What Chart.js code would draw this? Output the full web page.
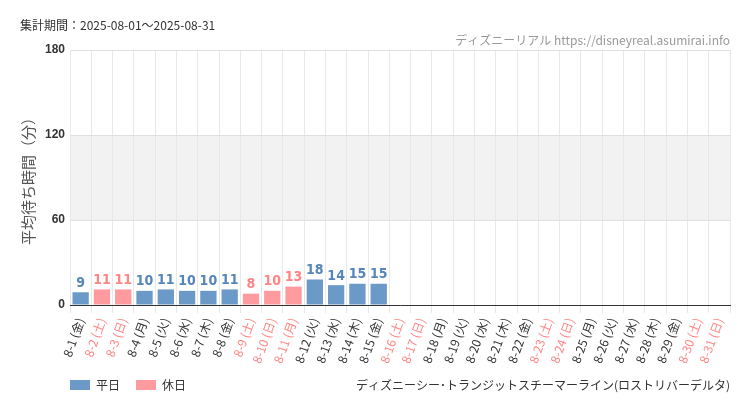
<!DOCTYPE html>
<html><head><meta charset="utf-8">
<script src="https://cdn.jsdelivr.net/npm/chart.js@4"></script>
<style>body{margin:0;background:#fff}#wrap{width:750px;height:410px;position:relative}</style>
</head><body><div id="wrap"><canvas id="c" width="750" height="410"></canvas></div>
<script>
// data
const days = ['8-1 (金)','8-2 (土)','8-3 (日)','8-4 (月)','8-5 (火)','8-6 (水)','8-7 (木)','8-8 (金)','8-9 (土)','8-10 (日)','8-11 (月)','8-12 (火)','8-13 (水)','8-14 (木)','8-15 (金)','8-16 (土)','8-17 (日)','8-18 (月)','8-19 (火)','8-20 (水)','8-21 (木)','8-22 (金)','8-23 (土)','8-24 (日)','8-25 (月)','8-26 (火)','8-27 (水)','8-28 (木)','8-29 (金)','8-30 (土)','8-31 (日)'];
const waits = [9,11,11,10,11,10,10,11,8,10,13,18,14,15,15];
const holidays = ['8-2','8-3','8-9','8-10','8-11','8-16','8-17','8-23','8-24','8-30','8-31'];
const yTicks = [0,60,120,180];

const WEEK = '#6b9ac8', HOL = '#ff9a9e', WEEK_T = '#5585bb', HOL_T = '#ff8585';
const isHol = i => holidays.includes(days[i].split(' ')[0]);

const deco = {
  id:'deco',
  beforeDraw(ch){
    const {ctx, chartArea:a, scales:{y}} = ch;
    ctx.fillStyle = '#f2f2f2';
    ctx.fillRect(a.left, y.getPixelForValue(120), a.right-a.left, y.getPixelForValue(60)-y.getPixelForValue(120));
  },
  afterDraw(ch){
    const {ctx, chartArea:a, scales:{x,y}} = ch;
    ctx.save();
    ctx.font = 'bold 14px "Liberation Sans Narrow","DejaVu Sans Condensed",sans-serif';
    ctx.textAlign = 'center'; ctx.textBaseline = 'bottom';
    waits.forEach((v,i)=>{
      ctx.fillStyle = isHol(i) ? HOL_T : WEEK_T;
      ctx.fillText(v, x.getPixelForValue(i), y.getPixelForValue(v)-2);
    });
    ctx.font = '12px "Noto Sans CJK JP",sans-serif';
    ctx.textAlign = 'left'; ctx.textBaseline = 'middle';
    ctx.fillStyle = '#333';
    ctx.fillText('集計期間：2025-08-01～2025-08-31', 20, 25);
    ctx.textAlign = 'right'; ctx.fillStyle = '#999';
    ctx.fillText('ディズニーリアル https://disneyreal.asumirai.info', 730, 40);
    ctx.fillStyle = '#333';
    ctx.fillText('ディズニーシー･トランジットスチーマーライン(ロストリバーデルタ)', 730, 385);
    ctx.textAlign = 'left';
    ctx.fillStyle = WEEK; ctx.fillRect(70, 380, 20, 10);
    ctx.fillStyle = '#333'; ctx.fillText('平日', 96, 385);
    ctx.fillStyle = HOL; ctx.fillRect(136, 380, 20, 10);
    ctx.fillStyle = '#333'; ctx.fillText('休日', 162, 385);
    ctx.translate(28, (a.top+a.bottom)/2); ctx.rotate(-Math.PI/2);
    ctx.textAlign = 'center'; ctx.font = '15px "Noto Sans CJK JP",sans-serif'; ctx.fillStyle = '#555';
    ctx.fillText('平均待ち時間（分）', 0, 0);
    ctx.restore();
  }
};

new Chart(document.getElementById('c'), {
  type:'bar',
  data:{labels:days, datasets:[{data:waits, backgroundColor:waits.map((v,i)=>isHol(i)?HOL:WEEK), categoryPercentage:0.85, barPercentage:0.9}]},
  options:{
    responsive:false, animation:false,
    layout:{padding:{left:20,right:20,top:50,bottom:0}},
    plugins:{legend:{display:false}, tooltip:{enabled:false}},
    scales:{
      x:{
        grid:{color:'#e8e8e8'}, border:{color:'#333'},
        afterFit(s){ s.height = 105; },
        ticks:{maxRotation:70, minRotation:70, autoSkip:false, font:{size:12, family:'"Noto Sans CJK JP",sans-serif'},
          color:c=>isHol(c.index)?HOL_T:'#333'}
      },
      y:{
        min:0, max:180, border:{display:false},
        afterFit(s){ s.width = 50; },
        afterBuildTicks(s){ s.ticks = yTicks.map(v=>({value:v})); },
        grid:{color:'#e0e0e0', drawTicks:false},
        ticks:{color:'#333', padding:5, font:{size:12, weight:'bold'}}
      }
    }
  },
  plugins:[deco]
});
</script></body></html>
